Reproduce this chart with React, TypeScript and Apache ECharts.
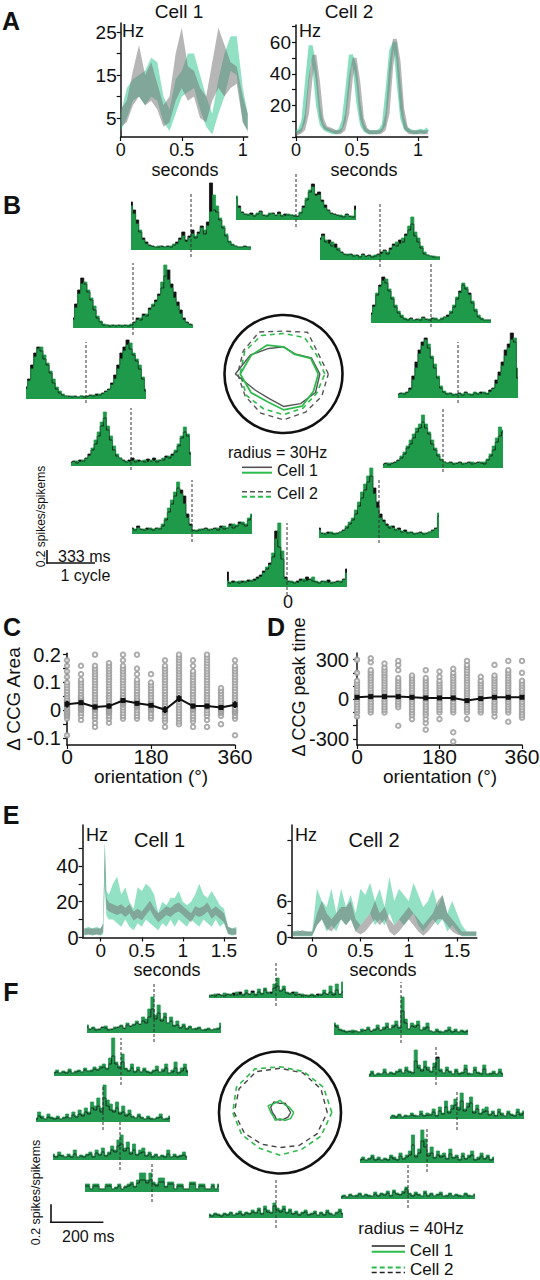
import React, { useEffect, useRef } from "react";
import * as echarts from "echarts";

const FONT = '"Liberation Sans", Arial, Helvetica, sans-serif';

// ---------- Panel A : firing rate vs time (Hz) ----------
const aCell1Time = [0, 0.05, 0.1, 0.15, 0.2, 0.25, 0.3, 0.35, 0.4, 0.45, 0.5, 0.55, 0.6, 0.65, 0.7, 0.75, 0.8, 0.85, 0.9, 0.95, 1.0, 1.04];
const aCell1GrayLo = [3, 4, 8, 10, 8, 9, 7, 3, 4, 9, 12, 9, 10, 5, 4, 9, 12, 10, 12, 13, 4, 2];
const aCell1GrayHi = [7, 9, 16, 22, 15, 18, 13, 8, 10, 20, 26, 17, 16, 12, 10, 18, 26, 22, 18, 17, 10, 6];
const aCell1GreenLo = [2, 5, 9, 10, 8, 10, 9, 4, 2, 6, 10, 11, 12, 7, 3, 1.2, 6, 10, 16, 15, 4, 2];
const aCell1GreenHi = [6, 12, 14, 15, 16, 19, 18, 10, 7, 14, 16, 20, 20, 15, 10, 6, 14, 20, 24, 24, 12, 6];

const aCell2Time = [0, 0.03, 0.06, 0.09, 0.12, 0.15, 0.18, 0.21, 0.24, 0.27, 0.3, 0.33, 0.36, 0.39, 0.42, 0.45, 0.48, 0.51, 0.54, 0.57, 0.6, 0.63, 0.66, 0.69, 0.72, 0.75, 0.78, 0.81, 0.84, 0.87, 0.9, 0.93, 0.96, 0.99, 1.02, 1.05, 1.08];
const aCell2Green = [3, 4, 10, 35, 58, 45, 20, 8, 5, 4, 3, 3, 4, 10, 30, 52, 45, 22, 8, 4, 3, 3, 3, 4, 8, 30, 55, 60, 35, 12, 5, 4, 3, 3, 4, 3, 5];
const aCell2Gray = [2, 3, 5, 15, 38, 52, 35, 12, 6, 5, 4, 3, 3, 5, 15, 38, 50, 35, 12, 5, 3, 3, 3, 3, 5, 15, 45, 62, 48, 18, 6, 3, 3, 3, 3, 3, 3];

// ---------- Panel B : CCGs at 12 orientations (units: 0.2 spikes/spike = 13) ----------
const bBlack = [
  [22, 14, 8, 6, 5, 7, 4, 6, 9, 5, 4, 6, 7, 5, 8, 4, 6, 5, 5, 4, 4, 7, 14, 20, 28, 36, 26, 28, 20, 15, 10, 7, 6, 5, 4, 3, 6, 4, 3, 14],
  [48, 40, 30, 18, 12, 8, 5, 4, 3, 3, 4, 3, 4, 3, 5, 8, 12, 18, 10, 14, 20, 12, 18, 24, 16, 28, 67, 40, 38, 30, 22, 14, 8, 5, 4, 3, 3, 4, 3, 3],
  [22, 26, 18, 20, 14, 16, 10, 8, 6, 5, 6, 4, 5, 3, 6, 4, 5, 3, 4, 6, 8, 10, 6, 12, 16, 14, 20, 18, 26, 30, 36, 24, 18, 12, 6, 5, 4, 3, 3, 3],
  [10, 24, 38, 50, 44, 36, 28, 18, 10, 6, 3, 3, 2, 3, 2, 3, 2, 3, 2, 3, 6, 10, 8, 14, 12, 20, 22, 28, 34, 40, 52, 58, 44, 36, 26, 18, 10, 6, 4, 3],
  [10, 18, 28, 38, 46, 40, 32, 24, 16, 10, 6, 4, 3, 5, 3, 4, 3, 6, 4, 3, 5, 4, 3, 4, 6, 8, 10, 16, 24, 32, 38, 34, 30, 20, 12, 6, 4, 3, 3, 3],
  [12, 20, 34, 46, 52, 48, 40, 34, 26, 16, 10, 6, 4, 3, 3, 2, 3, 2, 3, 2, 3, 4, 3, 5, 4, 6, 8, 10, 16, 24, 34, 46, 52, 59, 50, 44, 38, 30, 20, 8],
  [4, 5, 4, 6, 10, 22, 36, 48, 56, 60, 50, 40, 30, 20, 10, 6, 4, 5, 3, 4, 5, 3, 6, 4, 3, 5, 4, 6, 5, 4, 8, 10, 18, 26, 36, 48, 54, 65, 56, 20],
  [4, 5, 3, 6, 5, 8, 12, 16, 22, 30, 40, 48, 36, 26, 16, 10, 8, 6, 4, 6, 8, 4, 6, 5, 4, 7, 5, 8, 4, 6, 6, 10, 8, 12, 14, 20, 28, 34, 30, 12],
  [4, 5, 3, 5, 6, 8, 10, 14, 20, 24, 30, 36, 40, 46, 40, 34, 24, 18, 12, 8, 6, 5, 6, 4, 5, 6, 4, 5, 6, 4, 5, 6, 5, 4, 8, 12, 18, 26, 32, 36],
  [6, 4, 8, 5, 4, 6, 5, 4, 6, 5, 8, 14, 22, 30, 38, 46, 44, 38, 20, 10, 4, 3, 4, 5, 6, 4, 5, 6, 4, 8, 5, 6, 10, 6, 8, 12, 10, 8, 14, 18],
  [10, 5, 4, 6, 5, 4, 5, 6, 8, 10, 14, 18, 24, 32, 40, 48, 56, 62, 50, 36, 24, 18, 14, 10, 12, 8, 10, 6, 8, 5, 6, 4, 5, 6, 4, 5, 6, 8, 10, 22],
  [15, 4, 6, 5, 4, 6, 5, 7, 6, 8, 10, 12, 16, 18, 24, 30, 56, 40, 28, 10, 6, 5, 4, 6, 8, 6, 10, 8, 6, 5, 4, 6, 5, 7, 4, 5, 6, 5, 8, 18],
];
const bGreen = [
  [24, 12, 7, 5, 6, 5, 5, 7, 8, 4, 5, 7, 6, 4, 6, 5, 4, 6, 5, 5, 3, 8, 12, 22, 30, 33, 24, 25, 18, 12, 9, 6, 5, 4, 5, 4, 5, 3, 4, 10],
  [44, 36, 26, 20, 10, 6, 4, 3, 3, 4, 3, 3, 3, 4, 6, 6, 10, 14, 8, 12, 16, 14, 16, 22, 20, 24, 38, 55, 44, 32, 24, 16, 9, 6, 4, 3, 3, 3, 3, 3],
  [20, 24, 20, 16, 18, 12, 12, 7, 5, 6, 5, 5, 4, 4, 5, 3, 4, 4, 5, 5, 6, 9, 8, 10, 14, 18, 16, 22, 24, 34, 43, 28, 22, 14, 8, 5, 4, 4, 3, 3],
  [8, 20, 34, 44, 46, 38, 30, 22, 12, 7, 4, 3, 3, 2, 3, 2, 3, 2, 3, 4, 5, 8, 10, 12, 14, 18, 24, 26, 32, 46, 63, 48, 40, 30, 22, 14, 8, 5, 3, 3],
  [8, 16, 30, 36, 42, 44, 34, 26, 18, 12, 8, 5, 4, 4, 3, 3, 4, 5, 3, 4, 4, 5, 3, 5, 6, 6, 12, 18, 26, 30, 40, 36, 28, 22, 14, 8, 5, 3, 3, 3],
  [10, 18, 30, 42, 50, 52, 44, 36, 28, 20, 12, 8, 5, 3, 2, 3, 2, 2, 3, 3, 2, 3, 4, 3, 5, 5, 7, 9, 14, 20, 30, 40, 48, 54, 56, 46, 40, 34, 22, 10],
  [3, 4, 5, 5, 8, 18, 30, 44, 52, 58, 54, 42, 34, 22, 12, 7, 5, 4, 4, 3, 4, 4, 5, 4, 4, 6, 5, 4, 6, 5, 6, 9, 14, 22, 32, 42, 50, 58, 60, 30],
  [3, 4, 5, 4, 6, 7, 10, 18, 26, 34, 44, 54, 40, 30, 20, 12, 8, 5, 5, 4, 5, 6, 4, 5, 6, 4, 6, 5, 6, 5, 8, 8, 10, 10, 16, 22, 30, 39, 32, 14],
  [3, 4, 5, 4, 5, 7, 12, 16, 22, 28, 34, 40, 44, 53, 44, 36, 28, 20, 14, 9, 6, 5, 5, 5, 4, 5, 5, 4, 5, 6, 4, 5, 6, 6, 9, 14, 22, 30, 41, 38],
  [5, 5, 6, 4, 5, 4, 6, 5, 5, 6, 10, 16, 26, 34, 42, 52, 40, 30, 16, 8, 3, 4, 5, 4, 5, 5, 4, 5, 6, 6, 8, 6, 8, 10, 9, 10, 12, 10, 16, 20],
  [8, 4, 5, 4, 6, 5, 4, 6, 7, 12, 16, 20, 28, 36, 46, 54, 62, 70, 44, 30, 20, 16, 12, 12, 10, 9, 8, 7, 6, 6, 5, 5, 4, 5, 5, 4, 6, 7, 9, 25],
  [6, 5, 4, 5, 6, 4, 6, 5, 7, 6, 8, 10, 14, 20, 22, 34, 48, 64, 36, 8, 5, 6, 5, 4, 6, 8, 6, 7, 10, 6, 5, 5, 6, 4, 5, 4, 5, 6, 7, 14],
];
// zero-lag marker extent [above, below] baseline, same units
const bZeroMark = [[48, 7], [57, 7], [58, 7], [65, 7], [60, 4], [57, 4], [56, 5], [58, 4], [60, 4], [54, 8], [58, 5], [64, 8]];

// polar tuning (Hz), orientations 0..330
const polarAngles = [0, 30, 60, 90, 120, 150, 180, 210, 240, 270, 300, 330];
const bCell1Solid = [18.5, 16.4, 11.8, 13.8, 15, 19.4, 24.5, 16.5, 14.5, 16.5, 17.4, 18.8];
const bCell1Green = [17.7, 16, 11.5, 13.8, 16.9, 19, 22, 19, 16.3, 18.2, 18.9, 17.6];
const bCell2Gray = [22.8, 20.5, 24.5, 21.8, 24.7, 23.6, 23.3, 22.5, 23, 23.3, 22.4, 22.5];
const bCell2Green = [21, 19.4, 21.4, 20.6, 22.6, 22.8, 22, 21.8, 20.4, 20.7, 20, 19.5];

// ---------- Panel C / D ----------
const orientations = [0, 30, 60, 90, 120, 150, 180, 210, 240, 270, 300, 330, 360];
const cPairs = [
  [-0.09, -0.03, -0.02, -0.015, -0.01, -0.005, 0, 0.005, 0.01, 0.015, 0.02, 0.025, 0.03, 0.035, 0.04, 0.05, 0.06, 0.07, 0.08, 0.09, 0.1, 0.12, 0.14, 0.16, 0.18],
  [-0.035, -0.02, -0.01, 0, 0.005, 0.01, 0.015, 0.02, 0.025, 0.03, 0.035, 0.04, 0.045, 0.05, 0.06, 0.07, 0.08, 0.09, 0.1, 0.11, 0.13, 0.16],
  [-0.06, -0.045, -0.03, -0.02, -0.01, 0, 0.005, 0.01, 0.015, 0.02, 0.03, 0.04, 0.05, 0.06, 0.07, 0.08, 0.09, 0.1, 0.11, 0.12, 0.13, 0.14, 0.15, 0.16, 0.2],
  [-0.045, -0.03, -0.02, -0.01, -0.005, 0, 0.005, 0.01, 0.015, 0.02, 0.03, 0.04, 0.05, 0.06, 0.07, 0.08, 0.09, 0.1, 0.11, 0.12, 0.13, 0.14, 0.15, 0.16, 0.17],
  [-0.03, -0.02, -0.01, 0, 0.01, 0.02, 0.025, 0.03, 0.035, 0.04, 0.045, 0.05, 0.06, 0.07, 0.08, 0.09, 0.1, 0.11, 0.12, 0.13, 0.14, 0.15, 0.16, 0.18, 0.2],
  [-0.03, -0.02, -0.01, 0, 0.01, 0.015, 0.02, 0.025, 0.03, 0.035, 0.04, 0.05, 0.06, 0.07, 0.08, 0.09, 0.1, 0.11, 0.13, 0.15, 0.2],
  [-0.03, -0.02, -0.01, 0, 0.005, 0.01, 0.015, 0.02, 0.025, 0.03, 0.04, 0.05, 0.06, 0.07, 0.08, 0.09, 0.1, 0.13],
  [-0.06, -0.04, -0.03, -0.02, -0.01, -0.005, 0, 0.005, 0.01, 0.02, 0.03, 0.04, 0.05, 0.06, 0.07, 0.08, 0.09, 0.1, 0.11, 0.12, 0.13, 0.14, 0.15, 0.16, 0.18],
  [-0.05, -0.04, -0.03, -0.02, -0.01, 0, 0.01, 0.02, 0.03, 0.04, 0.05, 0.06, 0.07, 0.08, 0.09, 0.1, 0.11, 0.12, 0.13, 0.14, 0.15, 0.16, 0.17, 0.18, 0.19, 0.2],
  [-0.06, -0.04, -0.03, -0.02, -0.01, 0, 0.005, 0.01, 0.015, 0.02, 0.03, 0.04, 0.05, 0.06, 0.07, 0.08, 0.09, 0.1, 0.11, 0.12, 0.13, 0.14, 0.16, 0.18],
  [-0.06, -0.035, -0.02, -0.01, 0, 0.01, 0.015, 0.02, 0.03, 0.04, 0.05, 0.06, 0.07, 0.08, 0.09, 0.1, 0.11, 0.12, 0.13, 0.14, 0.15, 0.16, 0.17, 0.18, 0.19, 0.2],
  [-0.05, -0.02, -0.01, -0.005, 0, 0.005, 0.01, 0.015, 0.02, 0.03, 0.04, 0.05, 0.06, 0.07, 0.08],
  [-0.09, -0.03, -0.02, -0.01, -0.005, 0, 0.005, 0.01, 0.02, 0.03, 0.04, 0.05, 0.06, 0.07, 0.08, 0.09, 0.1, 0.11, 0.12, 0.13, 0.14, 0.15, 0.16, 0.18],
];
const cMean = [0.022, 0.027, 0.012, 0.015, 0.035, 0.025, 0.018, 0.002, 0.042, 0.015, 0.015, 0.01, 0.02];
const cSem = [0.012, 0.008, 0.008, 0.009, 0.008, 0.008, 0.007, 0.012, 0.012, 0.008, 0.008, 0.006, 0.012];

const dPairs = [
  [-130, -100, -80, -60, -40, -20, 0, 20, 40, 60, 80, 100, 120, 140, 200, 300],
  [-100, -80, -60, -40, -20, 0, 20, 40, 60, 80, 100, 120, 140, 160, 180, 200, 220, 280, 310],
  [-100, -80, -60, -40, -20, 0, 20, 40, 60, 80, 100, 120, 140, 160, 180, 200, 220, 240, 270],
  [-200, -60, -40, -20, 0, 20, 40, 60, 80, 100, 120, 140, 160, 220, 260, 290],
  [-150, -120, -100, -80, -60, -40, -20, 0, 20, 40, 60, 80, 100, 120, 140, 160, 180],
  [-230, -180, -150, -120, -100, -80, -60, -40, -20, 0, 20, 40, 60, 80, 100, 120, 140, 160, 220],
  [-150, -100, -80, -60, -40, -20, 0, 20, 40, 60, 80, 100, 120, 140, 170, 210],
  [-320, -250, -100, -80, -60, -40, -20, 0, 20, 40, 60, 80, 100, 120, 140, 160, 180, 200, 230],
  [-150, -100, -80, -60, -40, -20, 0, 20, 40, 60, 80, 100, 120, 140, 160, 180, 200, 220, 240, 260, 290],
  [-100, -80, -60, -40, -20, 0, 20, 40, 60, 80, 100, 120, 140, 170],
  [-130, -100, -80, -60, -40, -20, 0, 20, 40, 60, 80, 100, 120, 140, 160, 180, 260],
  [-170, -100, -80, -60, -40, -20, 0, 20, 40, 60, 80, 100, 120, 140, 160, 180, 200, 220, 290],
  [-140, -120, -100, -80, -60, -40, -20, 0, 20, 40, 60, 80, 100, 120, 140, 200, 290],
];
const dMean = [15, 20, 20, 20, 15, 10, 10, 10, -10, 5, 15, 15, 15];
const dSem = [12, 12, 12, 12, 10, 12, 10, 14, 14, 10, 12, 12, 12];

// ---------- Panel E ----------
const eCell1Time = [-0.2, -0.15, -0.1, -0.05, 0, 0.03, 0.05, 0.07, 0.1, 0.15, 0.2, 0.25, 0.3, 0.35, 0.4, 0.45, 0.5, 0.55, 0.6, 0.65, 0.7, 0.75, 0.8, 0.85, 0.9, 0.95, 1.0, 1.05, 1.1, 1.15, 1.2, 1.25, 1.3, 1.35, 1.4, 1.45, 1.5, 1.55, 1.6, 1.65];
const eCell1GrayLo = [1.5, 1.5, 1.5, 1.5, 1.5, 3, 36, 16, 14.5, 13.5, 12.5, 13.5, 11.5, 13.5, 9.5, 11, 9.5, 12.5, 15.5, 11.5, 8.5, 10.5, 12.5, 11.5, 13.5, 14.5, 12.5, 10.5, 8.5, 12.5, 11.5, 12.5, 14.5, 10.5, 12.5, 10.5, 8.5, 2, 1.5, 1.5];
const eCell1GrayHi = [5, 5, 5, 5, 5, 8, 52, 22, 19.5, 18.5, 17.5, 18.5, 16.5, 18.5, 14.5, 16, 14.5, 17.5, 20.5, 16.5, 13.5, 15.5, 17.5, 16.5, 18.5, 19.5, 17.5, 15.5, 13.5, 17.5, 16.5, 17.5, 19.5, 15.5, 17.5, 15.5, 13.5, 6, 5, 5];
const eCell1GreenLo = [1, 2, 1, 2, 1, 2, 28, 12, 10, 10, 8, 6, 10, 6, 4, 8, 6, 10, 8, 6, 4, 8, 6, 10, 6, 10, 8, 6, 10, 8, 6, 10, 8, 6, 10, 6, 8, 2, 1, 2];
const eCell1GreenHi = [5, 6, 5, 6, 5, 8, 55, 26, 24, 30, 34, 24, 28, 20, 16, 28, 26, 30, 28, 24, 14, 20, 18, 22, 22, 26, 20, 18, 20, 24, 30, 24, 22, 26, 22, 18, 16, 6, 5, 6];

const eCell2Time = [-0.2, -0.15, -0.1, -0.05, 0, 0.05, 0.1, 0.15, 0.2, 0.25, 0.3, 0.35, 0.4, 0.45, 0.5, 0.55, 0.6, 0.65, 0.7, 0.75, 0.8, 0.85, 0.9, 0.95, 1.0, 1.05, 1.1, 1.15, 1.2, 1.25, 1.3, 1.35, 1.4, 1.45, 1.5, 1.55, 1.6, 1.65, 1.7];
const eCell2GrayLo = [0.3, 0.3, 0.3, 0.3, 0.3, 2, 3, 1.5, 1, 2, 3, 2, 3, 1, 0.5, 1, 2, 3, 2, 3, 1, 0.3, 1, 2, 3, 2, 1, 0.3, 1, 2, 3, 3, 2, 1, 0.5, 0.3, 0.3, 0.3, 0.3];
const eCell2GrayHi = [1, 1, 1.2, 1, 1, 4, 6, 4, 3, 4, 5, 5, 6, 3, 2, 3, 4, 6, 4, 5, 3, 2, 3, 4, 5, 4, 3, 2, 3, 4, 6, 7, 4, 3, 2, 1, 1, 1, 1];
const eCell2GreenLo = [0.2, 0.2, 0.2, 0.2, 0.2, 2, 3, 1, 2, 1, 3, 2, 3, 1, 2, 3, 4, 2, 3, 2, 4, 2, 3, 2, 3, 4, 2, 1, 2, 3, 2, 3, 1, 2, 1, 0.2, 0.2, 0.2, 0.2];
const eCell2GreenHi = [1, 1.2, 1, 1, 1, 8, 6, 5, 8, 4, 8, 5, 7, 4, 8, 7, 9, 6, 8, 5, 10, 6, 8, 7, 6, 9, 7, 5, 6, 8, 5, 7, 4, 6, 4, 2, 1, 1, 1];

// ---------- Panel F : CCGs, second pair ----------
const fBlack = [
  [2, 3, 2, 4, 3, 2, 4, 3, 5, 3, 6, 3, 5, 4, 7, 3, 6, 4, 8, 5, 6, 10, 12, 7, 9, 5, 4, 6, 3, 4, 2, 3, 2, 3, 2, 4, 3, 5, 4, 6, 3, 8, 4, 6],
  [6, 4, 5, 3, 4, 6, 5, 3, 4, 5, 6, 7, 5, 8, 7, 8, 10, 9, 12, 10, 16, 24, 14, 20, 12, 16, 10, 12, 7, 8, 5, 7, 4, 6, 4, 4, 5, 3, 3, 4, 3, 4, 4, 6],
  [10, 8, 5, 4, 3, 4, 3, 4, 3, 4, 5, 6, 4, 5, 7, 5, 6, 8, 6, 8, 10, 7, 24, 12, 6, 9, 8, 10, 5, 6, 8, 4, 3, 4, 3, 3, 4, 5, 3, 4, 3, 4, 3, 4],
  [3, 4, 3, 4, 3, 5, 3, 4, 5, 4, 6, 5, 5, 7, 6, 8, 9, 7, 12, 20, 12, 8, 14, 7, 5, 8, 4, 6, 4, 6, 4, 3, 5, 6, 4, 5, 8, 3, 4, 8, 3, 5, 8, 4],
  [2, 4, 2, 3, 3, 5, 3, 4, 3, 5, 6, 4, 7, 5, 4, 16, 9, 6, 10, 7, 5, 10, 20, 6, 4, 7, 5, 3, 6, 3, 4, 8, 3, 3, 7, 4, 3, 8, 3, 3, 4, 3, 5, 3],
  [3, 6, 4, 3, 5, 4, 3, 4, 3, 4, 5, 4, 7, 5, 8, 6, 10, 8, 14, 12, 16, 10, 24, 16, 12, 10, 14, 8, 10, 6, 8, 5, 4, 6, 4, 3, 4, 3, 3, 4, 5, 3, 3, 4],
  [2, 3, 2, 4, 2, 3, 3, 4, 3, 3, 5, 3, 4, 4, 7, 3, 8, 5, 12, 6, 10, 14, 9, 18, 8, 12, 16, 6, 10, 5, 7, 8, 4, 6, 3, 7, 4, 3, 6, 4, 3, 7, 4, 6],
  [4, 3, 5, 4, 3, 4, 3, 6, 3, 4, 3, 5, 6, 3, 7, 5, 8, 4, 6, 10, 8, 14, 16, 9, 12, 6, 10, 5, 7, 8, 4, 6, 3, 5, 3, 4, 3, 6, 3, 4, 3, 4, 5, 3],
  [3, 4, 3, 4, 6, 3, 4, 3, 4, 3, 6, 4, 3, 7, 4, 6, 8, 18, 6, 10, 22, 16, 7, 10, 5, 8, 6, 7, 4, 9, 5, 6, 3, 7, 4, 6, 8, 3, 4, 7, 4, 6, 3, 4],
  [6, 6, 3, 6, 6, 3, 3, 6, 6, 3, 4, 6, 3, 5, 6, 8, 5, 9, 12, 12, 9, 12, 8, 6, 10, 10, 5, 8, 8, 3, 6, 6, 3, 3, 8, 8, 3, 6, 6, 3, 3, 6, 3, 6],
  [2, 3, 2, 4, 3, 3, 5, 3, 4, 3, 3, 5, 3, 5, 4, 6, 3, 7, 5, 4, 6, 10, 5, 3, 5, 4, 3, 6, 3, 5, 3, 4, 5, 3, 3, 5, 3, 4, 3, 3, 5, 3, 3, 4],
  [3, 2, 4, 3, 2, 4, 3, 5, 3, 4, 5, 3, 5, 4, 6, 5, 8, 4, 9, 6, 5, 12, 8, 6, 9, 5, 7, 4, 5, 3, 5, 6, 3, 4, 5, 3, 5, 3, 6, 4, 3, 5, 7, 4],
];
const fGreen = [
  [3, 2, 4, 3, 2, 5, 3, 4, 2, 6, 3, 4, 8, 3, 5, 4, 9, 5, 10, 6, 4, 14, 20, 8, 12, 6, 5, 4, 6, 3, 4, 2, 3, 4, 3, 2, 4, 8, 3, 12, 5, 14, 3, 16],
  [8, 3, 6, 4, 3, 5, 7, 4, 3, 6, 5, 8, 4, 10, 6, 9, 12, 8, 16, 14, 24, 36, 18, 28, 14, 20, 10, 16, 8, 12, 6, 9, 5, 7, 4, 5, 6, 3, 4, 5, 3, 4, 5, 10],
  [12, 10, 6, 5, 4, 3, 5, 4, 3, 6, 4, 8, 3, 6, 10, 4, 8, 12, 6, 10, 14, 8, 38, 16, 6, 12, 10, 14, 5, 8, 12, 4, 3, 6, 4, 3, 5, 8, 4, 6, 3, 5, 4, 5],
  [4, 6, 3, 5, 4, 7, 3, 5, 6, 4, 8, 5, 6, 9, 7, 10, 12, 8, 18, 38, 14, 10, 22, 8, 6, 12, 5, 9, 4, 8, 5, 4, 6, 10, 4, 7, 12, 3, 6, 14, 4, 8, 12, 6],
  [3, 6, 2, 4, 3, 8, 3, 5, 4, 6, 8, 4, 10, 6, 5, 27, 12, 8, 16, 10, 6, 14, 18, 8, 4, 10, 6, 3, 8, 4, 5, 12, 4, 3, 10, 5, 4, 12, 3, 4, 6, 3, 8, 4],
  [4, 10, 6, 3, 8, 5, 4, 6, 3, 5, 8, 4, 10, 6, 12, 8, 14, 10, 20, 16, 24, 14, 37, 22, 18, 12, 20, 10, 16, 8, 12, 6, 4, 8, 5, 3, 6, 4, 3, 5, 8, 3, 4, 6],
  [2, 4, 3, 5, 2, 4, 3, 6, 4, 3, 8, 4, 6, 5, 10, 4, 12, 6, 18, 8, 14, 20, 12, 26, 10, 16, 22, 8, 14, 6, 10, 12, 5, 8, 4, 10, 6, 3, 8, 5, 4, 10, 6, 8],
  [6, 4, 8, 5, 3, 6, 4, 10, 3, 5, 4, 6, 8, 4, 10, 6, 12, 5, 8, 14, 10, 20, 25, 12, 18, 8, 16, 6, 10, 12, 5, 8, 4, 6, 3, 5, 4, 10, 3, 6, 4, 5, 8, 4],
  [4, 6, 3, 5, 8, 4, 6, 3, 5, 4, 8, 6, 4, 10, 5, 8, 12, 28, 8, 14, 33, 24, 10, 16, 6, 12, 8, 10, 5, 14, 6, 8, 4, 10, 5, 8, 12, 4, 6, 10, 5, 8, 4, 6],
  [8, 8, 3, 8, 8, 3, 3, 8, 8, 3, 5, 8, 3, 6, 8, 10, 6, 12, 19, 19, 12, 19, 10, 8, 14, 14, 6, 10, 10, 3, 8, 8, 3, 3, 10, 10, 3, 8, 8, 3, 3, 8, 3, 8],
  [3, 4, 2, 5, 3, 4, 6, 3, 5, 4, 3, 7, 4, 6, 5, 8, 4, 9, 6, 5, 8, 12, 6, 4, 7, 5, 3, 8, 4, 6, 3, 5, 7, 3, 4, 6, 3, 5, 4, 3, 6, 4, 3, 5],
  [4, 3, 5, 4, 3, 5, 4, 6, 3, 5, 7, 4, 6, 5, 8, 6, 10, 5, 12, 8, 6, 15, 10, 8, 12, 6, 9, 5, 7, 4, 6, 8, 4, 5, 7, 3, 6, 4, 8, 5, 3, 6, 9, 5],
];
const fZeroMark = [[35, 8], [51, 9], [53, 8], [38, 9], [32, 8], [35, 8], [29, 11], [40, 10], [34, 9], [28, 10], [34, 9], [38, 10]];

const fCell1Gray = [7, 6, 7, 6, 8, 7, 5, 4, 5, 5, 5, 6];
const fCell1Green = [9, 7, 6, 8, 7, 9, 6, 5, 6, 4, 6, 8];
const fCell2Gray = [31, 31, 30, 29, 31, 31, 30, 27, 24, 23, 25, 28];
const fCell2Green = [34, 33, 31, 30, 33, 33, 31, 29, 27, 28, 28, 31];

// ---------- layout (pixels) ----------
const B_POS = [[236, 220], [131, 250], [320, 260], [73, 328], [371, 323], [26, 399], [398, 398], [71, 466], [383, 468], [132, 534], [319, 538], [227, 587]];
const F_POS = [[209, 998], [87, 1033], [334, 1035], [54, 1076], [369, 1077], [36, 1122], [390, 1119], [53, 1160], [360, 1163], [85, 1192], [341, 1199], [209, 1218]];

const INK = "#111";
const GREEN_B = "#1f9a4a";
const GREEN_F = "#23984f";
const POLAR_GREEN = "#2dbb4c";
const GREEN_BAND = "rgba(40,195,140,0.5)";
const GRAY_BAND = "rgba(110,110,110,0.5)";

function buildOption() {
  const grid: any[] = [];
  const xAxis: any[] = [];
  const yAxis: any[] = [];
  const series: any[] = [];
  const graphic: any[] = [];

  const add = (rect: any, xa: any, ya: any) => {
    const i = grid.length;
    grid.push({ ...rect, containLabel: false, outerBoundsMode: "none" });
    xAxis.push({ gridIndex: i, ...xa });
    yAxis.push({ gridIndex: i, ...ya });
    return i;
  };
  const hidden = (min: number, max: number) => ({ type: "value", show: false, min, max, splitLine: { show: false } });
  const vis = (min: number, max: number, ticks: number[], labels: number[], fontSize: number, margin: number) => ({
    type: "value",
    min,
    max,
    axisLine: { show: true, onZero: false, lineStyle: { color: INK, width: 1.5 } },
    axisTick: { show: true, length: 4, customValues: ticks, lineStyle: { color: INK, width: 1.2 } },
    axisLabel: { show: true, customValues: labels, color: INK, fontSize, fontFamily: FONT, margin, formatter: (v: number) => String(v) },
    splitLine: { show: false },
  });
  const band = (gi: number, xs: number[], lo: number[], hi: number[], fill: string) => ({
    type: "custom",
    xAxisIndex: gi,
    yAxisIndex: gi,
    silent: true,
    data: xs.map((x, i) => [x, lo[i], hi[i]]),
    encode: { x: 0, y: [1, 2] },
    renderItem: (params: any, api: any) => {
      if (params.dataIndex !== 0) return null;
      const top = xs.map((x, i) => api.coord([x, hi[i]]));
      const bot = xs.map((x, i) => api.coord([x, lo[i]])).reverse();
      return { type: "polygon", shape: { points: top.concat(bot) }, style: { fill } };
    },
  });
  const txt = (text: string, x: number, y: number, size: number, o: any = {}) => ({
    type: "text",
    x,
    y,
    rotation: o.rot || 0,
    z: 10,
    style: {
      text,
      fill: INK,
      font: `${o.bold ? "bold " : ""}${size}px ${FONT}`,
      textAlign: o.align || "center",
      textVerticalAlign: "middle",
      align: o.align || "center",
      verticalAlign: "middle",
    },
  });
  const ln = (x1: number, y1: number, x2: number, y2: number, stroke: string, lineWidth: number, lineDash?: number[]) => ({
    type: "line",
    z: 10,
    shape: { x1, y1, x2, y2 },
    style: { stroke, lineWidth, lineDash },
  });

  // ----- Panel A -----
  const a1 = add({ left: 120.7, top: 23, width: 127, height: 114 }, vis(0, 1.04, [0, 0.5, 1], [0, 0.5, 1], 18, 4), vis(0.6, 27.1, [5, 10, 15, 20, 25], [5, 15, 25], 19, 4));
  series.push(band(a1, aCell1Time, aCell1GreenLo, aCell1GreenHi, GREEN_BAND));
  series.push(band(a1, aCell1Time, aCell1GrayLo, aCell1GrayHi, GRAY_BAND));
  const a2 = add({ left: 296, top: 25, width: 131.8, height: 112 }, vis(0, 1.08, [0, 0.5, 1], [0, 0.5, 1], 18, 4), vis(0, 71, [0, 10, 20, 30, 40, 50, 60, 70], [20, 40, 60], 19, 5));
  series.push({ type: "line", xAxisIndex: a2, yAxisIndex: a2, data: aCell2Time.map((t, i) => [t, aCell2Green[i]]), symbol: "none", silent: true, lineStyle: { color: "rgba(60,200,150,0.6)", width: 4 } });
  series.push({ type: "line", xAxisIndex: a2, yAxisIndex: a2, data: aCell2Time.map((t, i) => [t, aCell2Gray[i]]), symbol: "none", silent: true, lineStyle: { color: "rgba(110,110,110,0.5)", width: 4 } });

  // ----- histograms (filled) -----
  const hist = (pos: number[], width: number, black: number[], green: number[], mark: number[], gColor: string) => {
    const n = black.length;
    const half = (n - 1) / 2;
    const gi = add({ left: pos[0], top: pos[1] - 80, width, height: 92 }, hidden(-half, half), hidden(-12, 80));
    const pts = (v: number[]) => v.map((y, i) => [i - half, y]);
    series.push({ type: "line", xAxisIndex: gi, yAxisIndex: gi, data: pts(black), step: "middle", symbol: "none", silent: true, lineStyle: { color: INK, width: 0.8 }, areaStyle: { color: INK, opacity: 1 } });
    series.push({ type: "line", xAxisIndex: gi, yAxisIndex: gi, data: pts(green), step: "middle", symbol: "none", silent: true, lineStyle: { color: gColor, width: 0.8 }, areaStyle: { color: gColor, opacity: 1 } });
    series.push({ type: "line", xAxisIndex: gi, yAxisIndex: gi, data: [[0, -mark[1]], [0, mark[0]]], symbol: "none", silent: true, z: 3, lineStyle: { color: "#333", width: 1, type: [3, 2] } });
  };
  bBlack.forEach((b, k) => hist(B_POS[k], 120, b, bGreen[k], bZeroMark[k], GREEN_B));
  fBlack.forEach((b, k) => hist(F_POS[k], 134, b, fGreen[k], fZeroMark[k], GREEN_F));

  // ----- polar plots -----
  const ring = (r: number[]) => polarAngles.map((a, i) => [r[i], a]).concat([[r[0], 360]]);
  const pl = (pi: number, r: number[], color: string, width: number, dashed: boolean) => ({
    type: "line",
    coordinateSystem: "polar",
    polarIndex: pi,
    data: ring(r),
    symbol: "none",
    silent: true,
    lineStyle: { color, width, type: dashed ? [5, 4] : "solid" },
  });
  series.push(pl(0, bCell2Gray, "#555", 1.4, true));
  series.push(pl(0, bCell2Green, POLAR_GREEN, 1.6, true));
  series.push(pl(0, bCell1Solid, "#555", 1.4, false));
  series.push(pl(0, bCell1Green, POLAR_GREEN, 1.8, false));
  series.push(pl(1, fCell2Gray, "#444", 1.4, true));
  series.push(pl(1, fCell2Green, POLAR_GREEN, 1.6, true));
  series.push(pl(1, fCell1Gray, "#444", 1.3, false));
  series.push(pl(1, fCell1Green, POLAR_GREEN, 1.5, false));

  // ----- Panel C / D -----
  const c = add({ left: 67, top: 653.3, width: 168, height: 91.7 }, vis(0, 360, [0, 180, 360], [0, 180, 360], 21, 1), vis(-0.125, 0.205, [-0.1, -0.05, 0, 0.05, 0.1, 0.15, 0.2], [-0.1, 0, 0.1, 0.2], 20, 6));
  const d = add({ left: 357, top: 653, width: 165, height: 92 }, vis(0, 360, [0, 180, 360], [0, 180, 360], 21, 1), vis(-346, 350, [-300, -200, -100, 0, 100, 200, 300], [-300, 0, 300], 20, 8));
  const scatter = (gi: number, cols: number[][]) => ({
    type: "scatter",
    xAxisIndex: gi,
    yAxisIndex: gi,
    silent: true,
    symbol: "emptyCircle",
    symbolSize: 4.5,
    itemStyle: { color: "#999", borderWidth: 1 },
    data: cols.flatMap((col, k) => col.map((v) => [orientations[k], v])),
  });
  const meanLine = (gi: number, m: number[]) => ({
    type: "line",
    xAxisIndex: gi,
    yAxisIndex: gi,
    silent: true,
    z: 5,
    data: orientations.map((o, i) => [o, m[i]]),
    symbol: "rect",
    symbolSize: 5,
    itemStyle: { color: INK },
    lineStyle: { color: INK, width: 2 },
  });
  const errBars = (gi: number, m: number[], s: number[]) => ({
    type: "custom",
    xAxisIndex: gi,
    yAxisIndex: gi,
    silent: true,
    z: 5,
    data: orientations.map((o, i) => [o, m[i] - s[i], m[i] + s[i]]),
    encode: { x: 0, y: [1, 2] },
    renderItem: (_p: any, api: any) => {
      const a = api.coord([api.value(0), api.value(1)]);
      const b = api.coord([api.value(0), api.value(2)]);
      return { type: "line", shape: { x1: a[0], y1: a[1], x2: b[0], y2: b[1] }, style: { stroke: INK, lineWidth: 2 } };
    },
  });
  series.push(scatter(c, cPairs), errBars(c, cMean, cSem), meanLine(c, cMean));
  series.push(scatter(d, dPairs), errBars(d, dMean, dSem), meanLine(d, dMean));

  // ----- Panel E -----
  const e1 = add({ left: 82.6, top: 825, width: 153.7, height: 112.5 }, vis(-0.22, 1.65, [0, 0.5, 1, 1.5], [0, 0.5, 1, 1.5], 19, 3), vis(0, 62.8, [0, 10, 20, 30, 40, 50], [0, 20, 40], 20, 4));
  series.push(band(e1, eCell1Time, eCell1GreenLo, eCell1GreenHi, GREEN_BAND));
  series.push(band(e1, eCell1Time, eCell1GrayLo, eCell1GrayHi, GRAY_BAND));
  const e2 = add({ left: 291.4, top: 825, width: 185.4, height: 112.5 }, vis(-0.215, 1.705, [0, 0.5, 1, 1.5], [0, 0.5, 1, 1.5], 19, 3), vis(0, 18.5, [0, 2, 4, 6, 16], [0, 6], 20, 4));
  series.push(band(e2, eCell2Time, eCell2GreenLo, eCell2GreenHi, GREEN_BAND));
  series.push(band(e2, eCell2Time, eCell2GrayLo, eCell2GrayHi, GRAY_BAND));

  // ----- texts -----
  const letters: [string, number, number][] = [["A", 11, 21], ["B", 12, 205], ["C", 12, 627], ["D", 276, 627], ["E", 11, 815], ["F", 11, 992]];
  letters.forEach(([t, x, y]) => graphic.push(txt(t, x, y, 25, { bold: true })));
  graphic.push(txt("Cell 1", 179, 11, 19), txt("Cell 2", 349, 11, 19));
  graphic.push(txt("Hz", 122, 31, 18, { align: "left" }), txt("Hz", 299, 31, 18, { align: "left" }));
  graphic.push(txt("seconds", 185, 170, 18), txt("seconds", 364, 170, 18));
  graphic.push(txt("Cell 1", 159.5, 840, 20), txt("Cell 2", 374, 840, 20));
  graphic.push(txt("Hz", 86, 835, 18, { align: "left" }), txt("Hz", 295, 835, 18, { align: "left" }));
  graphic.push(txt("seconds", 167, 970, 18), txt("seconds", 383, 970, 18));
  graphic.push(txt("orientation (°)", 151, 776, 19), txt("orientation (°)", 440, 776, 19));
  graphic.push(txt("Δ CCG Area", 13, 699, 19, { rot: Math.PI / 2 }));
  graphic.push(txt("Δ CCG peak time", 299, 687, 18, { rot: Math.PI / 2 }));
  graphic.push(txt("0", 288, 602, 18));

  // legend B
  graphic.push(txt("radius = 30Hz", 277.6, 452, 16));
  graphic.push(ln(242, 467.3, 272, 467.3, "#555", 1.6), ln(242, 472.7, 272, 472.7, POLAR_GREEN, 2));
  graphic.push(ln(242, 491.7, 272, 491.7, "#555", 1.6, [5, 3]), ln(242, 496.7, 272, 496.7, POLAR_GREEN, 2, [5, 3]));
  graphic.push(txt("Cell 1", 277, 470, 16, { align: "left" }), txt("Cell 2", 277, 493.5, 16, { align: "left" }));
  // scale bar B
  graphic.push(ln(47, 550, 47, 563.5, INK, 1.6), ln(46.2, 563, 95, 563, INK, 1.6));
  graphic.push(txt("333 ms", 58, 556.5, 16, { align: "left" }), txt("1 cycle", 60.5, 575.5, 16, { align: "left" }));
  graphic.push(txt("0.2 spikes/spikems", 41, 516.5, 12, { rot: Math.PI / 2 }));

  // legend F
  graphic.push(txt("radius = 40Hz", 411, 1228.5, 17));
  graphic.push(ln(371.7, 1246, 405, 1246, "#222", 1.6), ln(371.7, 1251.7, 405, 1251.7, POLAR_GREEN, 2));
  graphic.push(ln(371.7, 1267.5, 405, 1267.5, POLAR_GREEN, 2, [5, 3]), ln(371.7, 1272.5, 405, 1272.5, "#222", 1.6, [5, 3]));
  graphic.push(txt("Cell 1", 409.7, 1250, 17, { align: "left" }), txt("Cell 2", 410, 1269.5, 17, { align: "left" }));
  // scale bar F
  graphic.push(ln(51, 1204.3, 51, 1223, INK, 1.6), ln(50.2, 1222.3, 103.4, 1222.3, INK, 1.6));
  graphic.push(txt("200 ms", 62, 1236, 16, { align: "left" }));
  graphic.push(txt("0.2 spikes/spikems", 36, 1192.5, 12.5, { rot: Math.PI / 2 }));

  const angleAxisDef = (pi: number) => ({
    polarIndex: pi,
    type: "value",
    min: 0,
    max: 360,
    startAngle: 0,
    clockwise: false,
    axisLine: { show: true, lineStyle: { color: INK, width: 2.6 } },
    axisTick: { show: false },
    axisLabel: { show: false },
    splitLine: { show: false },
  });

  return {
    animation: false,
    backgroundColor: "#fff",
    textStyle: { fontFamily: FONT },
    grid,
    xAxis,
    yAxis,
    polar: [
      { center: [283.5, 374], radius: 59 },
      { center: [280, 1112.5], radius: 61 },
    ],
    angleAxis: [angleAxisDef(0), angleAxisDef(1)],
    radiusAxis: [
      { polarIndex: 0, type: "value", min: 0, max: 30, show: false, axisLine: { show: false }, splitLine: { show: false }, axisLabel: { show: false }, axisTick: { show: false } },
      { polarIndex: 1, type: "value", min: 0, max: 40, show: false, axisLine: { show: false }, splitLine: { show: false }, axisLabel: { show: false }, axisTick: { show: false } },
    ],
    series,
    graphic,
  };
}

export default function App() {
  const ref = useRef<HTMLDivElement>(null);
  useEffect(() => {
    if (!ref.current) return;
    const chart = echarts.init(ref.current, null, { renderer: "svg", width: 540, height: 1280 });
    chart.setOption(buildOption() as any);
    return () => chart.dispose();
  }, []);
  return <div ref={ref} style={{ position: "absolute", left: 0, top: 0, width: 540, height: 1280, background: "#fff" }} />;
}
